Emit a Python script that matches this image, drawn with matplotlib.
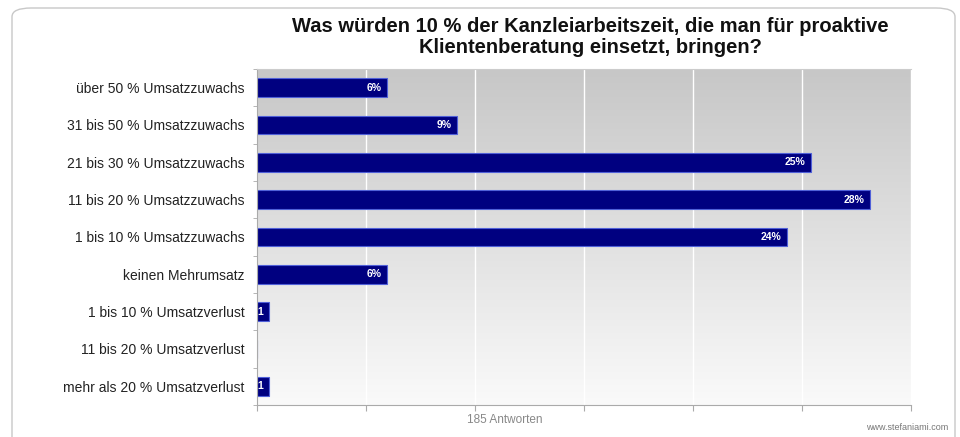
import matplotlib
matplotlib.use("Agg")
import matplotlib.pyplot as plt
import numpy as np
from matplotlib.patches import FancyBboxPatch

categories = ["über 50 % Umsatzzuwachs", "31 bis 50 % Umsatzzuwachs", "21 bis 30 % Umsatzzuwachs",
              "11 bis 20 % Umsatzzuwachs", "1 bis 10 % Umsatzzuwachs", "keinen Mehrumsatz",
              "1 bis 10 % Umsatzverlust", "11 bis 20 % Umsatzverlust", "mehr als 20 % Umsatzverlust"]
counts = [11, 17, 47, 52, 45, 11, 1, 0, 1]
total = 185
labels = ["6%", "9%", "25%", "28%", "24%", "6%", "1", "", "1"]

values = [c / total * 100 for c in counts]

plt.rcParams['font.family'] = ['Liberation Sans', 'DejaVu Sans']
fig = plt.figure(figsize=(9.6, 4.37), dpi=100)
fig.patch.set_facecolor("white")

box = FancyBboxPatch((12 / 960, -0.05), 943 / 960, (437 - 8) / 437 + 0.05,
                     boxstyle="round,pad=0,rounding_size=0.02", transform=fig.transFigure,
                     facecolor="none", edgecolor="#c8c8c8", linewidth=1.0, zorder=-5)
fig.patches.append(box)

ax = fig.add_axes([257 / 960, 32 / 437, 654 / 960, 336 / 437])
ax.set_xlim(0, 30)
ax.set_ylim(len(categories) - 0.5, -0.5)

grad = np.linspace(0, 1, 256).reshape(-1, 1)
top = np.array([0.78, 0.78, 0.78])
bot = np.array([0.98, 0.98, 0.98])
img = top + (bot - top) * grad[:, :, None] * np.ones((1, 1, 3))
ax.imshow(img, aspect='auto', extent=[0, 30, len(categories) - 0.5, -0.5], zorder=0,
          interpolation='bilinear')

for x in range(5, 31, 5):
    ax.axvline(x, color="white", linewidth=1.0, zorder=1)

y = np.arange(len(categories))
ax.barh(y, values, height=0.5, color="#000080", edgecolor="#5060d8", linewidth=0.8, zorder=2)
for yi, v, lab in zip(y, values, labels):
    if lab:
        ax.text(v - 0.25, yi, lab, ha='right', va='center', color='white', fontsize=7.5,
                fontweight='bold', zorder=3)

ax.set_yticks(y)
ax.set_yticklabels(categories, fontsize=10, color="#222222")
ax.tick_params(axis='y', length=0, pad=9)
ax.set_yticks(np.arange(-0.5, len(categories), 1), minor=True)
ax.tick_params(axis='y', which='minor', length=3, color="#aaaaaa", direction='out')
ax.set_xticks(range(0, 31, 5))
ax.set_xticklabels([])
ax.tick_params(axis='x', length=4, color="#aaaaaa", direction='out')

ax.spines['right'].set_visible(False)
ax.spines['left'].set_color("#aaaaaa")
ax.spines['bottom'].set_color("#aaaaaa")
ax.spines['top'].set_color("#cccccc")

fig.text(590 / 960, 1 - 37 / 437, "Was würden 10 % der Kanzleiarbeitszeit, die man für proaktive\nKlientenberatung einsetzt, bringen?",
         ha='center', va='center', fontsize=14.5, fontweight='bold', color="#111111", linespacing=1.15)
fig.text(505 / 960, 1 - 420 / 437, "185 Antworten", ha='center', va='center', fontsize=8.5, color="#888888")
fig.text(948 / 960, 1 - 427 / 437, "www.stefaniami.com", ha='right', va='center', fontsize=6.5, color="#777777")

fig.savefig("out.png", dpi=100, facecolor="white")
